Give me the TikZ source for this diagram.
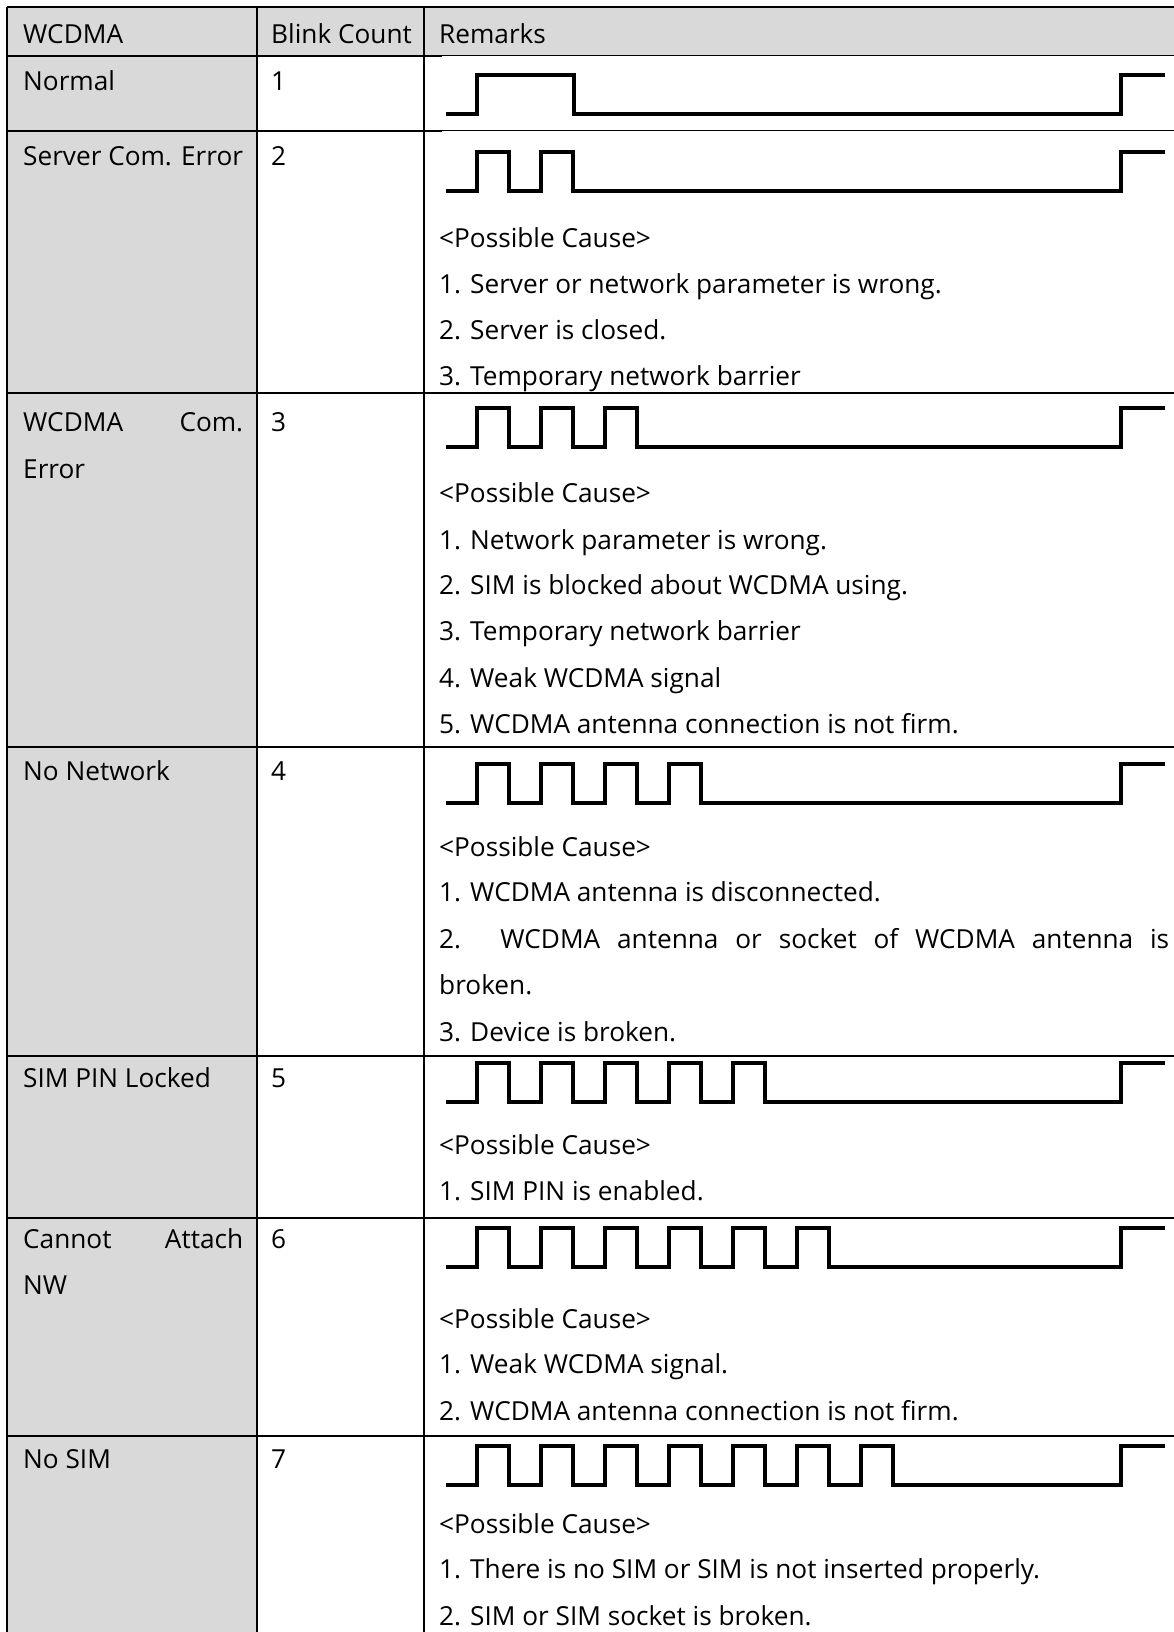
\documentclass[tikz,border=0pt]{standalone}
\usepackage{fontspec}
\setmainfont{Open Sans}
\usetikzlibrary{positioning}
\definecolor{cellgrey}{HTML}{D9D9D9}

% one blink pattern: #1 pulses, #2 low level
\newcommand{\blinkwave}[2]{%
  \draw[wave] (446,#2) -- (477,#2)
    \foreach \k in {1,...,#1} { -- ++(0,-39) -- ++(32,0) -- ++(0,39) -- ++(32,0) }
    -- (1121,#2) -- ++(0,-39) -- ++(44,0);
}

\begin{document}
\begin{tikzpicture}[x=1pt, y=-1pt]
    % Define styles
    \tikzstyle{rule} = [draw, line width=1.8pt]
    \tikzstyle{thinrule} = [draw, line width=1pt]
    \tikzstyle{wave} = [draw, line width=3.8pt]
    \tikzstyle{txt} = [anchor=base west, inner sep=0pt, yshift=-2pt,
        font=\fontsize{26.2}{30}\selectfont]

    \useasboundingbox (0,0) rectangle (1174,1632);

    % Cell backgrounds
    \fill[cellgrey] (7,7) rectangle (1174,56);
    \fill[cellgrey] (7,56) rectangle (257,1632);

    % Grid
    \foreach \y in {7,393,747,1056,1218,1436}
        \draw[rule] (7,\y) -- (1174,\y);
    \foreach \y in {56,131} {
        \draw[rule] (7,\y) -- (442,\y);
        \draw[thinrule] (442,\y) -- (1174,\y);
    }
    \foreach \x in {7,257,424}
        \draw[rule] (\x,7) -- (\x,1632);

    % Header
    \node[txt] (hmode) at (23,42) {WCDMA};
    \node[txt] (hcount) at (271,42) {Blink Count};
    \node[txt] (hremark) at (439,42) {Remarks};

    % Normal
    \node[txt] (normal) at (23,89) {Normal};
    \node[txt] (normaln) at (271,89) {1};
    \draw[wave] (446,114) -- (477,114) -- (477,75) -- (574,75) -- (574,114)
        -- (1121,114) -- (1121,75) -- (1165,75);

    % Server Com. Error
    \node[txt] (server) at (23,164) {Server Com. Error};
    \node[txt] (servern) at (271,164) {2};
    \blinkwave{2}{191}
    \node[txt] (servera) at (439,245) {<Possible Cause>};
    \node[txt] (serverb) at (439,291) {1. Server or network parameter is wrong.};
    \node[txt] (serverc) at (439,337) {2. Server is closed.};
    \node[txt] (serverd) at (439,383) {3. Temporary network barrier};

    % WCDMA Com. Error
    \node[txt] (wcdma) at (23,429) {\makebox[220pt][s]{WCDMA Com.}};
    \node[txt] (wcdmab) at (23,476) {Error};
    \node[txt] (wcdman) at (271,429) {3};
    \blinkwave{3}{447}
    \node[txt] (wcdmaa) at (439,500) {<Possible Cause>};
    \node[txt] (wcdmac) at (439,547) {1. Network parameter is wrong.};
    \node[txt] (wcdmad) at (439,592) {2. SIM is blocked about WCDMA using.};
    \node[txt] (wcdmae) at (439,638) {3. Temporary network barrier};
    \node[txt] (wcdmaf) at (439,685) {4. Weak WCDMA signal};
    \node[txt] (wcdmag) at (439,731) {5. WCDMA antenna connection is not firm.};

    % No Network
    \node[txt] (nonet) at (23,778) {No Network};
    \node[txt] (nonetn) at (271,778) {4};
    \blinkwave{4}{803}
    \node[txt] (noneta) at (439,854) {<Possible Cause>};
    \node[txt] (nonetb) at (439,899) {1. WCDMA antenna is disconnected.};
    \node[txt] (nonetc) at (439,946) {\makebox[730pt][s]{2. WCDMA antenna or socket of WCDMA antenna is}};
    \node[txt] (nonetd) at (439,992) {broken.};
    \node[txt] (nonete) at (439,1039) {3. Device is broken.};

    % SIM PIN Locked
    \node[txt] (simpin) at (23,1085) {SIM PIN Locked};
    \node[txt] (simpinn) at (271,1085) {5};
    \blinkwave{5}{1102}
    \node[txt] (simpina) at (439,1152) {<Possible Cause>};
    \node[txt] (simpinb) at (439,1198) {1. SIM PIN is enabled.};

    % Cannot Attach NW
    \node[txt] (attach) at (23,1246) {\makebox[220pt][s]{Cannot Attach}};
    \node[txt] (attachb) at (23,1292) {NW};
    \node[txt] (attachn) at (271,1246) {6};
    \blinkwave{6}{1267}
    \node[txt] (attacha) at (439,1326) {<Possible Cause>};
    \node[txt] (attachc) at (439,1371) {1. Weak WCDMA signal.};
    \node[txt] (attachd) at (439,1418) {2. WCDMA antenna connection is not firm.};

    % No SIM
    \node[txt] (nosim) at (23,1466) {No SIM};
    \node[txt] (nosimn) at (271,1466) {7};
    \blinkwave{7}{1485}
    \node[txt] (nosima) at (439,1531) {<Possible Cause>};
    \node[txt] (nosimb) at (439,1576) {1. There is no SIM or SIM is not inserted properly.};
    \node[txt] (nosimc) at (439,1623) {2. SIM or SIM socket is broken.};
\end{tikzpicture}
\end{document}
